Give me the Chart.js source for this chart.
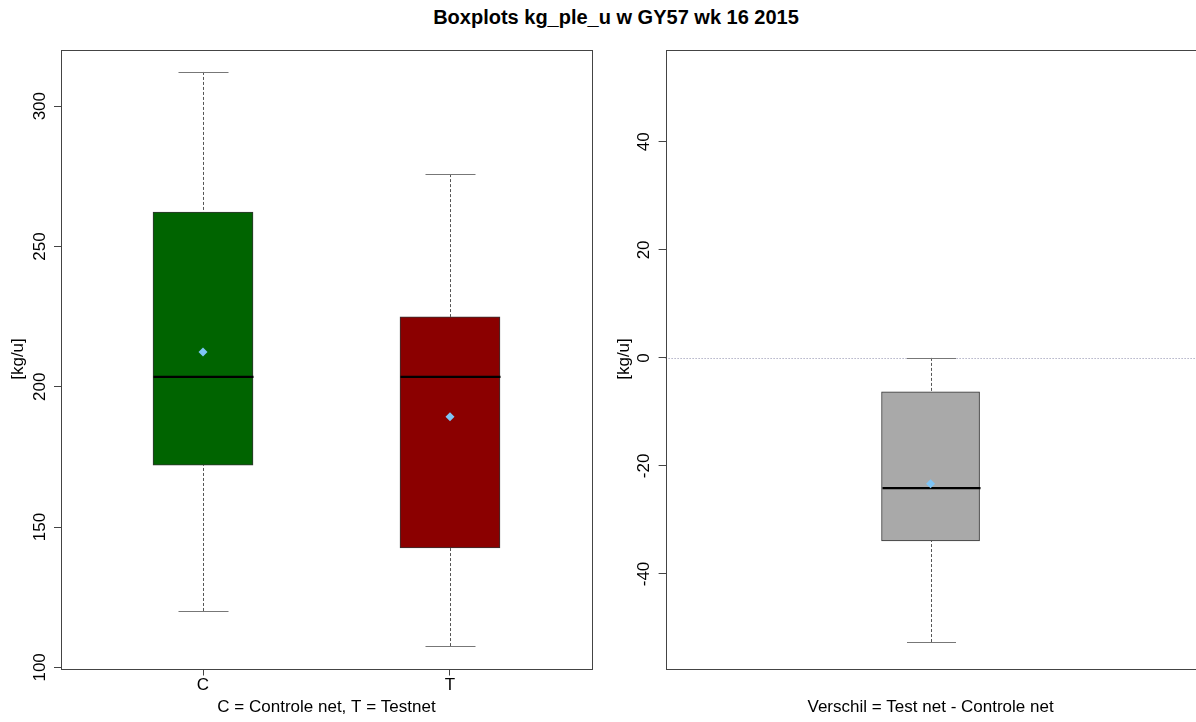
<!DOCTYPE html>
<html><head><meta charset="utf-8">
<script src="https://cdn.jsdelivr.net/npm/chart.js@4/dist/chart.umd.min.js"></script>
<style>
html,body{margin:0;padding:0;background:#fff;overflow:hidden;width:1196px;height:722px;position:relative;}
#title{position:absolute;left:0;width:1232px;top:6px;text-align:center;font:bold 20px "Liberation Sans",Arial,sans-serif;color:#000;}
#c1{position:absolute;left:0;top:0;}
#c2{position:absolute;left:600px;top:0;}
</style></head>
<body>
<div id="title">Boxplots kg_ple_u w GY57 wk 16 2015</div>
<canvas id="c1" width="600" height="722"></canvas>
<canvas id="c2" width="600" height="722"></canvas>
<script>
// ---- data: left panel (C = Controle net, T = Testnet) ----
const categories   = ['C', 'T'];
const whiskerLow   = [120.1, 107.6];
const q1           = [172.1, 142.6];
const median       = [203.5, 203.5];
const q3           = [262.3, 224.9];
const whiskerHigh  = [312.2, 275.8];
const means        = [212.4, 189.3];
const yTicksLeft   = [100, 150, 200, 250, 300];

// ---- data: right panel (Verschil = Test net - Controle net) ----
const diffCategories  = ['Verschil'];
const diffWhiskerLow  = [-52.6];
const diffQ1          = [-33.9];
const diffMedian      = [-24.1];
const diffQ3          = [-6.3];
const diffWhiskerHigh = [0.0];
const diffMeans       = [-23.3];
const yTicksRight     = [-40, -20, 0, 20, 40];

const FONT = {family: '"Liberation Sans", Arial, sans-serif', size: 17};

function boxPlugin(opt) {
  return {
    id: 'boxplot_' + opt.name,
    beforeDatasetsDraw(chart) {
      if (!opt.zeroLine) return;
      const {ctx, chartArea: a, scales: {y}} = chart;
      const py = Math.round(y.getPixelForValue(0)) + 0.5;
      ctx.save();
      ctx.strokeStyle = '#8c8cab';
      ctx.lineWidth = 1;
      ctx.setLineDash([1, 2]);
      ctx.beginPath(); ctx.moveTo(a.left, py); ctx.lineTo(a.right, py); ctx.stroke();
      ctx.restore();
    },
    afterDatasetDraw(chart, args) {
      if (args.index !== 0) return;
      const {ctx, scales: {x, y}} = chart;
      const capHalf = opt.boxPx / 4;
      const boxHalf = opt.boxPx / 2;
      ctx.save();
      opt.low.forEach((lo, i) => {
        const px = Math.round(x.getPixelForValue(i + 1)) + 0.5;
        const yLo = y.getPixelForValue(lo), yQ1 = y.getPixelForValue(opt.q1[i]);
        const yHi = y.getPixelForValue(opt.high[i]), yQ3 = y.getPixelForValue(opt.q3[i]);
        // whiskers
        ctx.strokeStyle = '#555'; ctx.lineWidth = 1; ctx.setLineDash([3, 2]);
        ctx.beginPath(); ctx.moveTo(px, yLo); ctx.lineTo(px, yQ1); ctx.moveTo(px, yHi); ctx.lineTo(px, yQ3); ctx.stroke();
        // caps
        ctx.setLineDash([]); ctx.strokeStyle = '#777';
        ctx.beginPath();
        ctx.moveTo(px - capHalf, Math.round(yLo) + 0.5); ctx.lineTo(px + capHalf, Math.round(yLo) + 0.5);
        ctx.moveTo(px - capHalf, Math.round(yHi) + 0.5); ctx.lineTo(px + capHalf, Math.round(yHi) + 0.5);
        ctx.stroke();
        // median
        const yM = y.getPixelForValue(opt.med[i]);
        ctx.strokeStyle = '#000'; ctx.lineWidth = 2.2;
        ctx.beginPath(); ctx.moveTo(px - boxHalf, yM); ctx.lineTo(px + boxHalf, yM); ctx.stroke();
      });
      ctx.restore();
    },
    afterDraw(chart) {
      const {ctx, chartArea: a} = chart;
      ctx.save();
      ctx.strokeStyle = '#444'; ctx.lineWidth = 1;
      ctx.strokeRect(Math.round(a.left) + 0.5, Math.round(a.top) + 0.5, Math.round(a.right - a.left), Math.round(a.bottom - a.top));
      ctx.restore();
    }
  };
}

function makeChart(canvas, o) {
  return new Chart(canvas, {
    type: 'bar',
    data: {
      datasets: [
        {
          type: 'bar',
          order: 2,
          data: o.cats.map((c, i) => ({x: i + 1, y: [o.q1[i], o.q3[i]]})),
          backgroundColor: o.colors,
          borderColor: '#333',
          borderWidth: 1,
          borderSkipped: false,
          barThickness: o.boxPx
        },
        {
          type: 'scatter',
          order: 1,
          data: o.cats.map((c, i) => ({x: i + 1, y: o.mean[i]})),
          pointStyle: 'rectRot',
          pointRadius: 4.5,
          backgroundColor: '#7ec4f5',
          borderColor: '#7ec4f5',
          borderWidth: 0
        }
      ]
    },
    options: {
      responsive: false,
      animation: false,
      events: [],
      layout: {padding: o.padding},
      plugins: {legend: {display: false}, tooltip: {enabled: false}, title: {display: false}},
      scales: {
        x: {
          type: 'linear',
          offset: false,
          min: o.xmin, max: o.xmax,
          afterBuildTicks: s => { s.ticks = o.showXTicks ? o.cats.map((c, i) => ({value: i + 1})) : []; },
          ticks: {display: o.showXTicks, font: FONT, color: '#000', padding: 0, autoSkip: false, maxRotation: 0,
                  callback: (v, i) => o.cats[i]},
          grid: {display: o.showXTicks, offset: false, drawOnChartArea: false, drawTicks: true, tickLength: 7, color: '#444'},
          border: {display: false},
          title: {display: true, text: o.xTitle, font: FONT, color: '#000', padding: {top: 0, bottom: 4}},
          afterFit: s => { s.height = 53.5; }
        },
        y: {
          type: 'linear',
          min: o.ymin, max: o.ymax,
          afterBuildTicks: s => { s.ticks = o.yTicks.map(v => ({value: v})); },
          ticks: {font: FONT, color: '#000', minRotation: 90, maxRotation: 90, crossAlign: 'center',
                  padding: o.yTickPad, callback: v => String(v)},
          grid: {drawOnChartArea: false, drawTicks: true, tickLength: 7, color: '#444'},
          border: {display: false},
          title: {display: true, text: '[kg/u]', font: FONT, color: '#000', padding: {top: o.yTitlePad, bottom: 0}},
          afterFit: s => { s.width = o.yWidth; }
        }
      }
    },
    plugins: [boxPlugin({name: o.name, low: o.low, q1: o.q1, med: o.med, q3: o.q3, high: o.high,
                         boxPx: o.boxPx, zeroLine: o.zeroLine})]
  });
}

makeChart(document.getElementById('c1'), {
  name: 'left', cats: categories, low: whiskerLow, q1: q1, med: median, q3: q3, high: whiskerHigh, mean: means,
  colors: ['#006400', '#8B0000'], boxPx: 100, xmin: 0.425, xmax: 2.575, ymin: 99.6, ymax: 320.2,
  yTicks: yTicksLeft, showXTicks: true, xTitle: 'C = Controle net, T = Testnet',
  padding: {top: 49.5, left: 0, right: 8, bottom: 0}, yWidth: 61, yTickPad: 0, yTitlePad: 8, zeroLine: false
});

makeChart(document.getElementById('c2'), {
  name: 'right', cats: diffCategories, low: diffWhiskerLow, q1: diffQ1, med: diffMedian, q3: diffQ3,
  high: diffWhiskerHigh, mean: diffMeans,
  colors: ['#A9A9A9'], boxPx: 98, xmin: 0.5, xmax: 1.5, ymin: -57.5, ymax: 57.1,
  yTicks: yTicksRight, showXTicks: false, xTitle: 'Verschil = Test net - Controle net',
  padding: {top: 49.5, left: 0, right: 2, bottom: 0}, yWidth: 65.6, yTickPad: 2, yTitlePad: 14, zeroLine: true
});
</script>
</body></html>
